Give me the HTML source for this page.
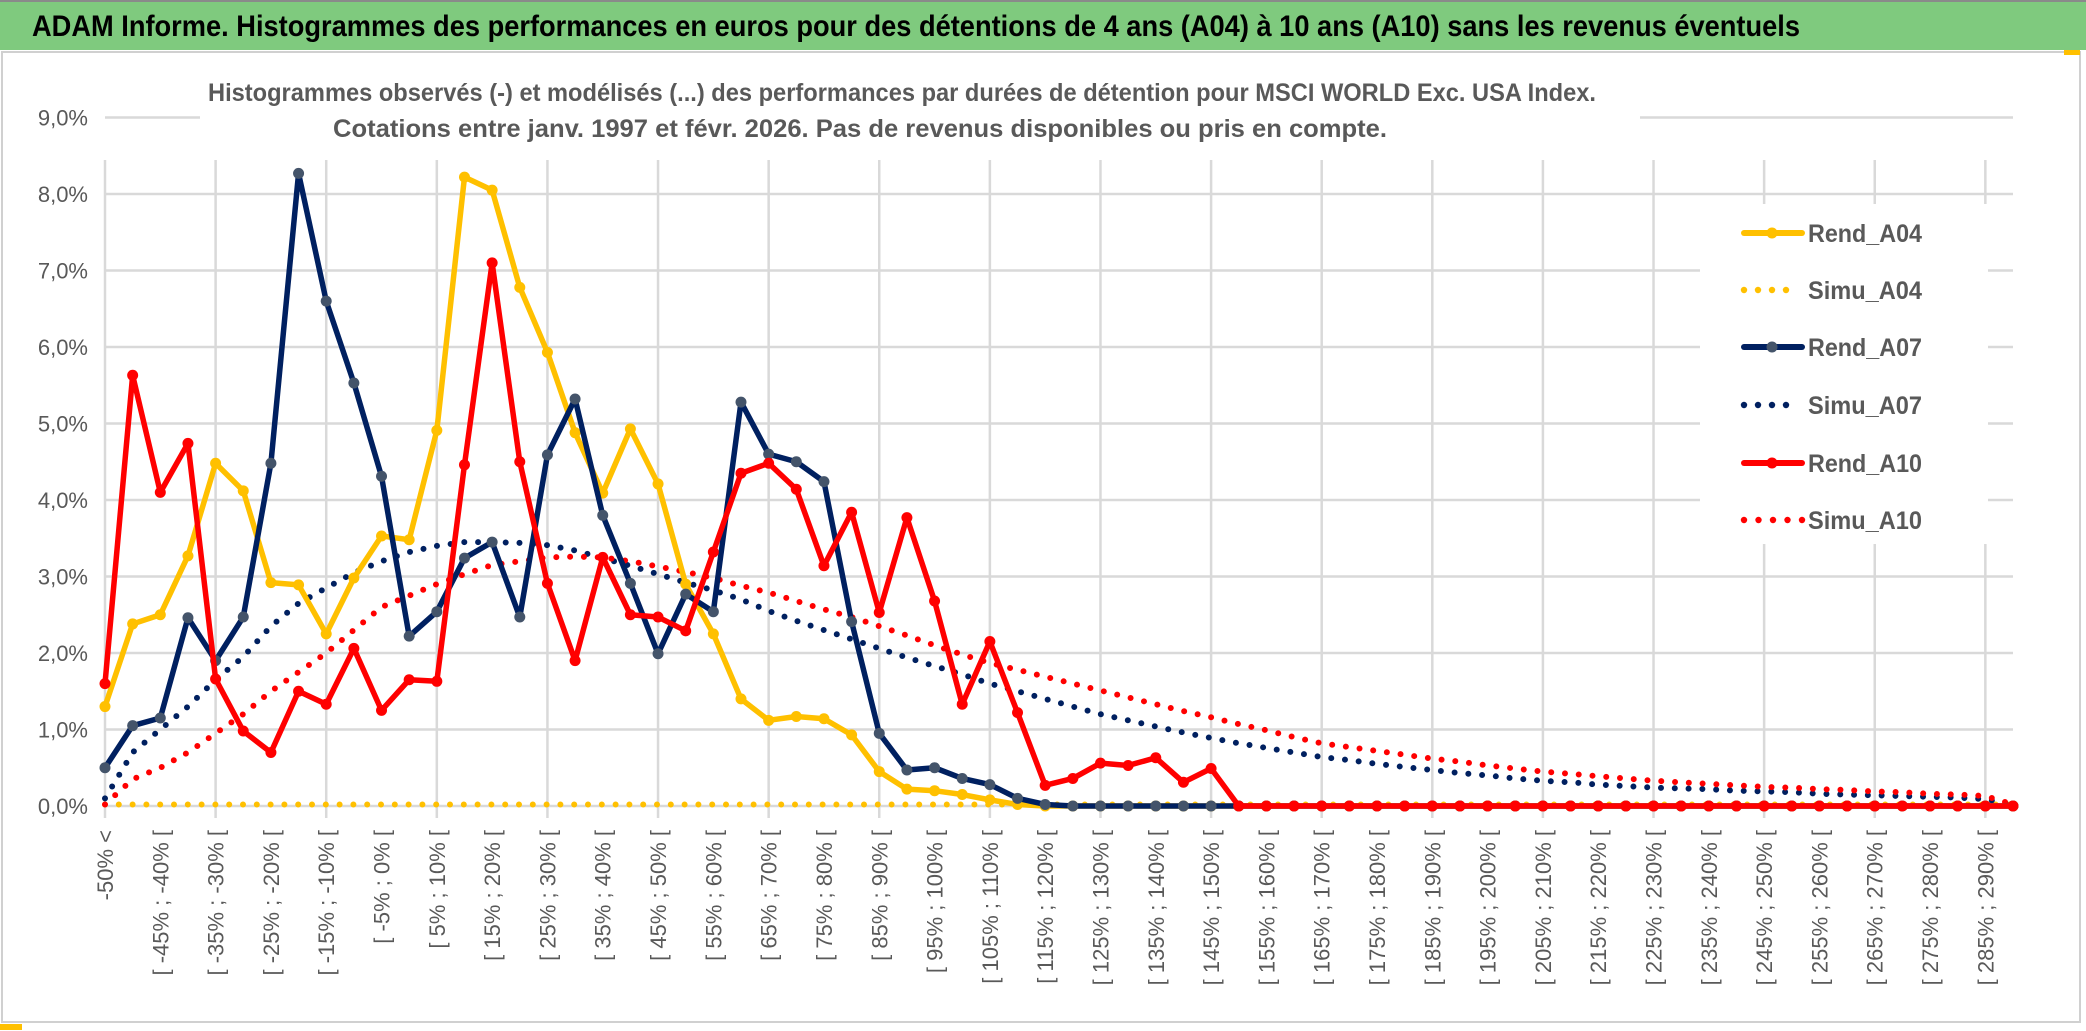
<!DOCTYPE html>
<html><head><meta charset="utf-8">
<style>
html,body{margin:0;padding:0;background:#fff;}
body{width:2086px;height:1031px;overflow:hidden;position:relative;font-family:"Liberation Sans",sans-serif;}
svg{position:absolute;left:0;top:0;}
</style></head>
<body>
<svg id="chart" width="2086" height="1031" viewBox="0 0 2086 1031" xmlns="http://www.w3.org/2000/svg">
  <rect x="0" y="0" width="2086" height="50" fill="#7FCA7E"/>
  <line x1="0" y1="1" x2="2086" y2="1" stroke="#8a8a8a" stroke-width="2"/>
  <text x="32" y="36" font-family="Liberation Sans, sans-serif" font-weight="bold" font-size="30" fill="#000" textLength="1768" lengthAdjust="spacingAndGlyphs">ADAM Informe. Histogrammes des performances en euros pour des détentions de 4 ans (A04) à 10 ans (A10) sans les revenus éventuels</text>
  <rect x="2" y="52" width="2078" height="970" fill="#fff" stroke="#d0d0d0" stroke-width="2"/>
  <rect x="2064" y="50" width="16" height="5" fill="#FFC000"/>
  <rect x="0" y="1024" width="22" height="6" fill="#FFC000"/>
  <g id="grid"></g>
  <g id="yaxis"></g>
  <g id="xaxis"></g>
  <rect x="200" y="68" width="1440" height="88" fill="#fff"/>
  <text x="208" y="101" font-family="Liberation Sans, sans-serif" font-weight="bold" font-size="25" fill="#595959" textLength="1388" lengthAdjust="spacingAndGlyphs">Histogrammes observés (-) et modélisés (...) des performances par durées de détention pour MSCI WORLD Exc. USA Index.</text>
  <text x="333" y="137" font-family="Liberation Sans, sans-serif" font-weight="bold" font-size="25" fill="#595959" textLength="1054" lengthAdjust="spacingAndGlyphs">Cotations entre janv. 1997 et févr. 2026. Pas de revenus disponibles ou pris en compte.</text>
  <g id="series"></g>
  <g id="legend"></g>
</svg>
<script>
const categories = ["-50% <"];
for (let n = 1; n <= 68; n++) categories.push("[ " + (-55 + 5*n) + "% ; " + (-50 + 5*n) + "% [");
categories.push("290% >");

const yTicks = [0,1,2,3,4,5,6,7,8,9];
const yTickLabels = ["0,0%","1,0%","2,0%","3,0%","4,0%","5,0%","6,0%","7,0%","8,0%","9,0%"];

const rendA04 = [1.3,2.38,2.5,3.27,4.48,4.12,2.92,2.89,2.25,2.98,3.53,3.48,4.91,8.22,8.05,6.78,5.93,4.88,4.09,4.93,4.21,2.9,2.25,1.4,1.12,1.17,1.14,0.93,0.45,0.22,0.2,0.15,0.08,0.02,0,0,0,0,0,0,0,0,0,0,0,0,0,0,0,0,0,0,0,0,0,0,0,0,0,0,0,0,0,0,0,0,0,0,0,0];
const simuA04 = [0.02,0.02,0.02,0.02,0.02,0.02,0.02,0.02,0.02,0.02,0.02,0.02,0.02,0.02,0.02,0.02,0.02,0.02,0.02,0.02,0.02,0.02,0.02,0.02,0.02,0.02,0.02,0.02,0.02,0.02,0.02,0.02,0.02,0.02,0.02,0.02,0.02,0.02,0.02,0.02,0.02,0.02,0.02,0.02,0.02,0.02,0.02,0.02,0.02,0.02,0.02,0.02,0.02,0.02,0.02,0.02,0.02,0.02,0.02,0.02,0.02,0.02,0.02,0.02,0.02,0.02,0.02,0.02,0.02,0.02];
const rendA07 = [0.5,1.05,1.15,2.46,1.9,2.47,4.48,8.27,6.6,5.53,4.31,2.22,2.54,3.24,3.45,2.47,4.59,5.32,3.8,2.91,1.99,2.77,2.54,5.28,4.6,4.5,4.24,2.41,0.95,0.47,0.5,0.36,0.28,0.1,0.02,0,0,0,0,0,0,0,0,0,0,0,0,0,0,0,0,0,0,0,0,0,0,0,0,0,0,0,0,0,0,0,0,0,0,0];
const simuA07 = [0.1,0.7,1.0,1.3,1.65,1.95,2.35,2.65,2.85,3.05,3.2,3.32,3.4,3.45,3.45,3.44,3.41,3.34,3.24,3.14,3.03,2.92,2.82,2.7,2.55,2.42,2.3,2.18,2.06,1.94,1.83,1.72,1.6,1.5,1.4,1.3,1.2,1.12,1.04,0.96,0.89,0.82,0.76,0.7,0.64,0.6,0.55,0.51,0.47,0.43,0.4,0.36,0.33,0.31,0.28,0.26,0.24,0.23,0.22,0.2,0.19,0.18,0.16,0.15,0.14,0.13,0.12,0.11,0.09,0.02];
const rendA10 = [1.6,5.63,4.1,4.74,1.66,0.98,0.7,1.5,1.33,2.06,1.25,1.65,1.63,4.46,7.1,4.5,2.91,1.9,3.25,2.5,2.47,2.29,3.32,4.35,4.48,4.14,3.14,3.84,2.53,3.77,2.68,1.33,2.15,1.22,0.27,0.36,0.56,0.53,0.63,0.31,0.49,0,0,0,0,0,0,0,0,0,0,0,0,0,0,0,0,0,0,0,0,0,0,0,0,0,0,0,0,0];
const simuA10 = [0.02,0.35,0.5,0.7,0.95,1.2,1.5,1.75,2.0,2.3,2.6,2.75,2.9,3.03,3.15,3.2,3.25,3.26,3.25,3.2,3.13,3.06,2.98,2.88,2.79,2.68,2.57,2.47,2.35,2.23,2.1,1.98,1.87,1.78,1.69,1.6,1.51,1.42,1.33,1.24,1.16,1.07,0.99,0.9,0.82,0.77,0.72,0.67,0.62,0.58,0.53,0.49,0.45,0.42,0.39,0.36,0.33,0.31,0.29,0.27,0.25,0.24,0.22,0.21,0.19,0.18,0.16,0.15,0.13,0.02];

const seriesNames = ["Rend_A04","Simu_A04","Rend_A07","Simu_A07","Rend_A10","Simu_A10"];

const NS = "http://www.w3.org/2000/svg";
const X0 = 105, X1 = 2013, Y0 = 806, PX_PER_PCT = 76.5;
const xScale = i => X0 + i * (X1 - X0) / (categories.length - 1);
const yScale = v => Y0 - v * PX_PER_PCT;
function mk(tag, attrs, parent){ const e=document.createElementNS(NS,tag); for(const k in attrs) e.setAttribute(k,attrs[k]); parent.appendChild(e); return e; }

const grid = document.getElementById('grid');
yTicks.forEach((t,k)=>{
  const y = yScale(t);
  const l = mk('line',{x1:X0,x2:X1,y1:y,y2:y,stroke:'#d9d9d9','stroke-width':2.5},grid);
  
  
  const tx = mk('text',{x:88,y:y+8,'text-anchor':'end','font-size':22,fill:'#595959','font-family':'Liberation Sans, sans-serif'},document.getElementById('yaxis'));
  tx.textContent = yTickLabels[k];
  
  
});
for (let i=0;i<categories.length;i+=4){
  const x = xScale(i);
  const l = mk('line',{x1:x,x2:x,y1:160,y2:Y0+12,stroke:'#d9d9d9','stroke-width':2.5},grid);
  
  
}
const xaxis = document.getElementById('xaxis');
for (let i=0;i<categories.length-1;i+=2){
  const x = xScale(i);
  const t = mk('text',{x:0,y:0,'text-anchor':'end','font-size':22,fill:'#595959','font-family':'Liberation Sans, sans-serif',transform:`translate(${x+8},830) rotate(-90)`},xaxis);
  t.textContent = categories[i];
  
  
}

const sg = document.getElementById('series');
function dotted(vals,color,name){
  const pts = vals.map((v,i)=>xScale(i)+','+yScale(v)).join(' ');
  const p = mk('polyline',{points:pts,fill:'none',stroke:color,'stroke-width':6,'stroke-linecap':'round','stroke-dasharray':'0 13.8'},sg);
  
  
}
function solid(vals,color,marker,name){
  const g = mk('g',{},sg);
  
  
  const pts = vals.map((v,i)=>xScale(i)+','+yScale(v)).join(' ');
  mk('polyline',{points:pts,fill:'none',stroke:color,'stroke-width':5.5,'stroke-linejoin':'round'},g);
  vals.forEach((v,i)=>{
    const c = mk('circle',{cx:xScale(i),cy:yScale(v),r:5.5,fill:marker},g);
    
    
  });
}
dotted(simuA04,'#FFC000','simu-a04-line');
dotted(simuA07,'#002060','simu-a07-line');
dotted(simuA10,'#FF0000','simu-a10-line');
solid(rendA04,'#FFC000','#FFC000','rend-a04-line');
solid(rendA07,'#002060','#44546A','rend-a07-line');
solid(rendA10,'#FF0000','#FF0000','rend-a10-line');

const lg = document.getElementById('legend');
const box = mk('rect',{x:1700,y:204,width:288,height:340,fill:'#fff'},lg);


const legColors = ['#FFC000','#FFC000','#002060','#002060','#FF0000','#FF0000'];
const legMarkers = ['#FFC000',null,'#44546A',null,'#FF0000',null];
const legY = [233,290,347,405,463,520];
seriesNames.forEach((n,k)=>{
  const g = mk('g',{},lg);
  
  
  const y = legY[k];
  if (legMarkers[k]) {
    mk('line',{x1:1744,x2:1802,y1:y,y2:y,stroke:legColors[k],'stroke-width':6,'stroke-linecap':'round'},g);
    mk('circle',{cx:1772,cy:y,r:5.5,fill:legMarkers[k]},g);
  } else {
    const cnt = k===5 ? 5 : 4;
    for (let j=0;j<cnt;j++) mk('circle',{cx:1744+j*(k===5?14.5:14),cy:y,r:3.2,fill:legColors[k]},g);
  }
  const t = mk('text',{x:1808,y:y+9,'font-size':25,'font-weight':'bold',fill:'#595959','font-family':'Liberation Sans, sans-serif',textLength:114,lengthAdjust:'spacingAndGlyphs'},g);
  t.textContent = n;
});
</script>
</body></html>
